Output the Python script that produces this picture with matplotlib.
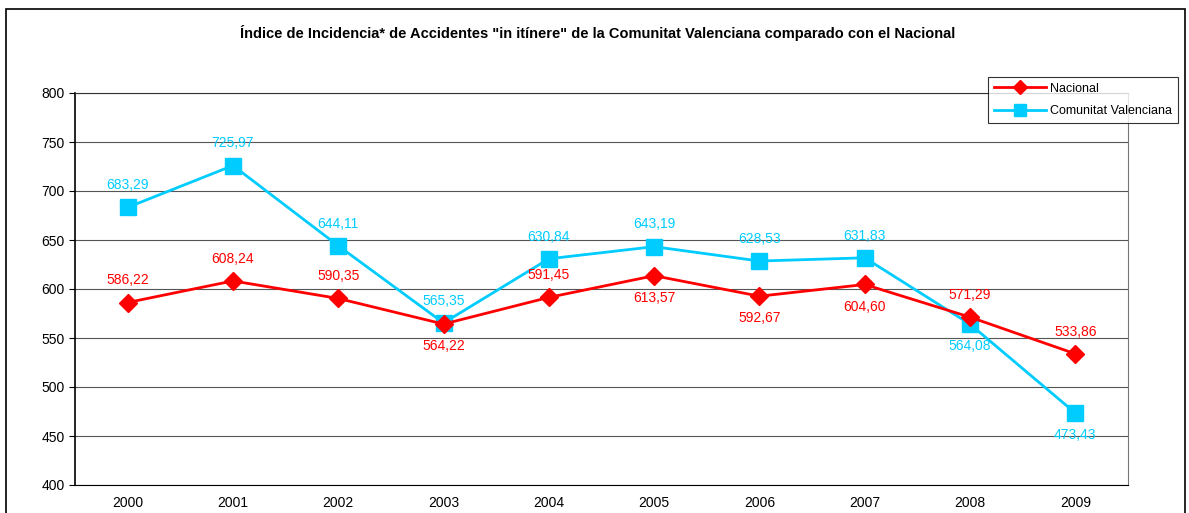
import matplotlib.pyplot as plt
from matplotlib.patches import Rectangle

years = ["2000", "2001", "2002", "2003", "2004", "2005", "2006", "2007", "2008", "2009"]
nacional = [586.22, 608.24, 590.35, 564.22, 591.45, 613.57, 592.67, 604.60, 571.29, 533.86]
valenciana = [683.29, 725.97, 644.11, 565.35, 630.84, 643.19, 628.53, 631.83, 564.08, 473.43]
# label position: 1 above, -1 below
nac_pos = [1, 1, 1, -1, 1, -1, -1, -1, 1, 1]
val_pos = [1, 1, 1, 1, 1, 1, 1, 1, -1, -1]

red = "#FF0000"
cyan = "#00CCFF"

plt.rcParams['font.family'] = ['Liberation Sans', 'DejaVu Sans']

fig = plt.figure(figsize=(11.89, 5.13), dpi=100)
ax = fig.add_axes([75 / 1189, 28 / 513, 1053 / 1189, 392 / 513])

x = list(range(len(years)))
ax.plot(x, nacional, color=red, lw=2, marker="D", ms=9, label="Nacional", zorder=4)
ax.plot(x, valenciana, color=cyan, lw=2, marker="s", ms=11, label="Comunitat Valenciana", zorder=3)

for i in x:
    ax.annotate(("%.2f" % nacional[i]).replace(".", ","),
                (i, nacional[i]), xytext=(0, 16 * nac_pos[i]), textcoords="offset points",
                ha="center", va="center", color=red, fontsize=10)
    ax.annotate(("%.2f" % valenciana[i]).replace(".", ","),
                (i, valenciana[i]), xytext=(0, 16 * val_pos[i]), textcoords="offset points",
                ha="center", va="center", color=cyan, fontsize=10)

ax.set_xlim(-0.5, 9.5)
ax.set_ylim(400, 800)
ax.set_yticks(range(400, 801, 50))
ax.set_xticks(x)
ax.set_xticklabels(years)
ax.tick_params(axis="x", length=0, pad=8, labelsize=10)
ax.tick_params(axis="y", length=4, labelsize=10, width=0.8)
ax.grid(axis="y", color="#555555", lw=0.8)
ax.set_axisbelow(True)
for s in ax.spines.values():
    s.set_color("#777777")
ax.spines["left"].set_color("black")
ax.spines["left"].set_linewidth(1.2)
ax.spines["bottom"].set_color("black")
ax.spines["top"].set_color("#333333")

fig.text(598 / 1189, 1 - 33 / 513, 'Índice de Incidencia* de Accidentes "in itínere" de la Comunitat Valenciana comparado con el Nacional',
         ha="center", va="center", fontsize=10.5, fontweight="bold")

leg = fig.legend(loc="upper left", bbox_to_anchor=(988 / 1189, 1 - 77 / 513), fontsize=9,
                 frameon=True, fancybox=False, edgecolor="black", handlelength=4.2,
                 borderpad=0.45, labelspacing=0.85, handletextpad=0.3, borderaxespad=0)
leg.get_frame().set_linewidth(0.8)
leg.set_zorder(10)
leg.legend_handles[0].set_markersize(7)
leg.legend_handles[1].set_markersize(8)

fig.patches.append(Rectangle((6 / 1189, -0.05), 1179 / 1189, 1.05 - 9 / 513,
                             transform=fig.transFigure, fill=False, edgecolor="black", lw=1.2))

fig.savefig("out.png", dpi=100)
